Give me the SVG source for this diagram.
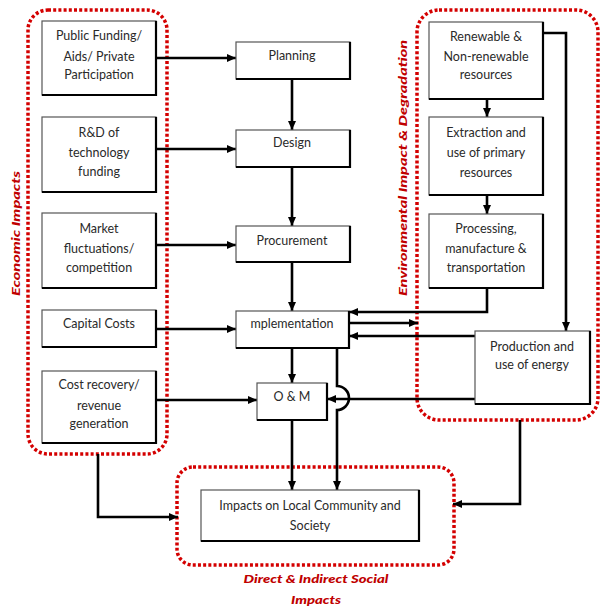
<svg xmlns="http://www.w3.org/2000/svg" width="600" height="610" viewBox="0 0 600 610">
  <style>
    .box rect { fill: #fff; stroke: #555; stroke-width: 1.2; }
    .box .shadow { fill: none; stroke: #000; stroke-width: 2.2; }
    .box text { font-family: Lato, "Liberation Sans", sans-serif; font-size: 12.5px; fill: #2a2a2a; text-anchor: middle; }
    .group { fill: none; stroke: #d40000; stroke-width: 3.5; stroke-dasharray: 3 2.2; }
    .grouplabel { font-family: Lato, "Liberation Sans", sans-serif; font-weight: 900; font-style: italic; font-size: 11.5px; fill: #c00000; }
    .conn path { fill: none; stroke: #000; stroke-width: 2.6; }
    .conn path.arrow { marker-end: url(#ah); }
  </style>
  <defs>
    <marker id="ah" markerUnits="userSpaceOnUse" markerWidth="10" markerHeight="10" refX="9" refY="5" orient="auto">
      <path d="M0,1 L9,5 L0,9 Z" fill="#000"/>
    </marker>
  </defs>
  <rect width="600" height="610" fill="#fff"/>

  <!-- grouping outlines -->
  <g id="economic-group">
    <rect class="group" x="28" y="10" width="139" height="444" rx="20"/>
    <text class="grouplabel" transform="translate(20,296) rotate(-90)" textLength="125" lengthAdjust="spacingAndGlyphs">Economic Impacts</text>
  </g>
  <g id="environment-group">
    <rect class="group" x="417" y="10" width="181" height="410" rx="22"/>
    <text class="grouplabel" transform="translate(407,296) rotate(-90)" textLength="256" lengthAdjust="spacingAndGlyphs">Environmental Impact &amp; Degradation</text>
  </g>
  <g id="social-group">
    <rect class="group" x="177" y="467" width="277" height="98" rx="16"/>
    <text class="grouplabel" x="316" y="583" text-anchor="middle" textLength="145" lengthAdjust="spacingAndGlyphs">Direct &amp; Indirect Social</text>
    <text class="grouplabel" x="316" y="604" text-anchor="middle" textLength="50" lengthAdjust="spacingAndGlyphs">Impacts</text>
  </g>

  <!-- connectors -->
  <g id="connectors" class="conn">
    <path class="arrow" d="M156,58 H236"/>
    <path class="arrow" d="M156,149 H236"/>
    <path class="arrow" d="M156,245 H236"/>
    <path class="arrow" d="M156,329 H236"/>
    <path class="arrow" d="M156,400 H257"/>
    <path class="arrow" d="M292,79 V130"/>
    <path class="arrow" d="M292,167 V226"/>
    <path class="arrow" d="M292,262 V311"/>
    <path class="arrow" d="M292,348 V383"/>
    <path class="arrow" d="M292,420 V490"/>
    <path class="arrow" d="M337,348 V386 A12,12 0 0 1 337,410 V490"/>
    <path class="arrow" d="M487,99 V117"/>
    <path class="arrow" d="M487,195 V214"/>
    <path class="arrow" d="M543,33 H566 V331"/>
    <path class="arrow" d="M487,288 V312 H349"/>
    <path class="arrow" d="M349,323 H418"/>
    <path class="arrow" d="M475,336 H349"/>
    <path class="arrow" d="M475,399 H327"/>
    <path class="arrow" d="M520,420 V504 H453"/>
    <path class="arrow" d="M98,454 V517 H178"/>
  </g>

  <!-- economic inputs -->
  <g id="public-funding" class="box">
    <rect x="42" y="21" width="114" height="74"/>
    <path class="shadow" d="M156,21 V95 H42"/>
    <text x="99" y="40">Public Funding/</text>
    <text x="99" y="61">Aids/ Private</text>
    <text x="99" y="79">Participation</text>
  </g>
  <g id="rd-funding" class="box">
    <rect x="42" y="117" width="114" height="75"/>
    <path class="shadow" d="M156,117 V192 H42"/>
    <text x="99" y="137">R&amp;D of</text>
    <text x="99" y="157">technology</text>
    <text x="99" y="176">funding</text>
  </g>
  <g id="market" class="box">
    <rect x="42" y="213" width="114" height="75"/>
    <path class="shadow" d="M156,213 V288 H42"/>
    <text x="99" y="233">Market</text>
    <text x="99" y="253">fluctuations/</text>
    <text x="99" y="272">competition</text>
  </g>
  <g id="capital-costs" class="box">
    <rect x="42" y="310" width="114" height="37"/>
    <path class="shadow" d="M156,310 V347 H42"/>
    <text x="99" y="328">Capital Costs</text>
  </g>
  <g id="cost-recovery" class="box">
    <rect x="42" y="371" width="114" height="72"/>
    <path class="shadow" d="M156,371 V443 H42"/>
    <text x="99" y="389">Cost recovery/</text>
    <text x="99" y="410">revenue</text>
    <text x="99" y="428">generation</text>
  </g>

  <!-- project stages -->
  <g id="planning" class="box">
    <rect x="236" y="42" width="114" height="37"/>
    <path class="shadow" d="M350,42 V79 H236"/>
    <text x="292" y="60">Planning</text>
  </g>
  <g id="design" class="box">
    <rect x="236" y="130" width="114" height="37"/>
    <path class="shadow" d="M350,130 V167 H236"/>
    <text x="292" y="147">Design</text>
  </g>
  <g id="procurement" class="box">
    <rect x="236" y="226" width="114" height="36"/>
    <path class="shadow" d="M350,226 V262 H236"/>
    <text x="292" y="245">Procurement</text>
  </g>
  <g id="implementation" class="box">
    <rect x="236" y="311" width="113" height="37"/>
    <path class="shadow" d="M349,311 V348 H236"/>
    <text x="292" y="328">mplementation</text>
  </g>
  <g id="om" class="box">
    <rect x="257" y="383" width="70" height="37"/>
    <path class="shadow" d="M327,383 V420 H257"/>
    <text x="292" y="401">O &amp; M</text>
  </g>

  <!-- environmental chain -->
  <g id="resources" class="box">
    <rect x="429" y="22" width="114" height="77"/>
    <path class="shadow" d="M543,22 V99 H429"/>
    <text x="486" y="41">Renewable &amp;</text>
    <text x="486" y="61">Non-renewable</text>
    <text x="486" y="79">resources</text>
  </g>
  <g id="extraction" class="box">
    <rect x="429" y="117" width="114" height="78"/>
    <path class="shadow" d="M543,117 V195 H429"/>
    <text x="486" y="137">Extraction and</text>
    <text x="486" y="157">use of primary</text>
    <text x="486" y="177">resources</text>
  </g>
  <g id="processing" class="box">
    <rect x="429" y="214" width="114" height="74"/>
    <path class="shadow" d="M543,214 V288 H429"/>
    <text x="486" y="233">Processing,</text>
    <text x="486" y="253">manufacture &amp;</text>
    <text x="486" y="272">transportation</text>
  </g>
  <g id="energy" class="box">
    <rect x="475" y="331" width="115" height="73"/>
    <path class="shadow" d="M590,331 V404 H475"/>
    <text x="532" y="351">Production and</text>
    <text x="532" y="369">use of energy</text>
  </g>

  <!-- outcome -->
  <g id="community" class="box">
    <rect x="201" y="490" width="218" height="51"/>
    <path class="shadow" d="M419,490 V541 H201"/>
    <text x="310" y="510">Impacts on Local Community and</text>
    <text x="310" y="530">Society</text>
  </g>
</svg>
